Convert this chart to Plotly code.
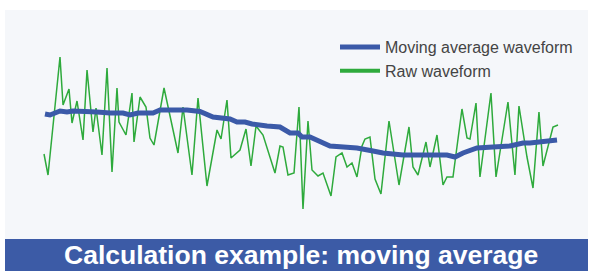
import plotly.graph_objects as go

# Raw waveform (sample position, amplitude)
raw_t = [0.00, 0.78, 3.11, 3.70, 4.86, 5.45, 6.42, 7.59, 8.37, 9.53, 10.12, 11.28,
         12.26, 13.23, 14.20, 14.59, 15.95, 17.12, 17.51, 18.68, 19.84, 20.62, 21.40,
         23.35, 26.07, 27.04, 28.79, 29.96, 31.71, 33.66, 34.44, 35.60, 36.38, 38.13,
         39.30, 40.27, 41.25, 42.61, 44.94, 45.91, 46.50, 47.47, 48.64, 49.61, 50.39,
         51.36, 52.14, 53.31, 54.28, 55.84, 56.81, 57.98, 58.95, 59.92, 60.89, 61.87,
         62.45, 63.42, 64.40, 65.56, 67.12, 69.07, 71.01, 71.79, 72.76, 74.32, 75.10,
         76.46, 77.63, 78.40, 79.57, 81.32, 82.30, 82.88, 84.05, 84.82, 86.96, 87.94,
         90.27, 91.63, 92.41, 93.97, 95.14, 96.30, 97.08, 99.03, 100.00]
raw_v = [-0.70, -1.75, 4.15, 1.75, 2.55, 0.85, 1.95, 0.00, 3.50, 0.40, 1.60, -0.75,
         3.60, -1.60, 2.60, 0.90, 0.25, 2.35, -0.10, 2.15, 1.65, 0.10, -0.25,
         2.60, -0.65, 1.65, -1.75, 2.10, -2.30, 0.50, 0.05, 2.00, -0.90, -0.50,
         0.55, -1.30, 0.70, 0.25, -1.65, -0.30, -0.35, -1.75, -1.65, 1.65, -3.45,
         0.95, -1.50, -1.80, -1.65, -2.80, -0.85, -0.65, -1.35, -1.15, -1.85, -0.30,
         0.05, 0.15, -1.95, -2.70, 0.95, -2.25, 0.65, -1.35, -1.75, -0.10, -1.35,
         0.25, -2.25, -1.85, -1.85, 1.55, 0.10, 0.05, 1.85, -1.85, 2.35, -1.85,
         1.90, -1.75, 1.70, -0.85, -2.40, 1.40, -1.30, 0.65, 0.75]

# Moving average waveform
ma_t = [0.19, 1.17, 3.11, 4.47, 5.64, 8.37, 10.31, 12.84, 15.37, 16.73, 18.29, 21.21,
        22.57, 25.10, 27.82, 30.35, 32.30, 32.88, 36.19, 37.55, 39.11, 40.47, 43.39,
        45.91, 47.86, 49.42, 50.19, 51.75, 55.64, 57.59, 58.95, 60.89, 64.01, 65.95,
        69.84, 77.04, 78.40, 79.96, 81.52, 84.24, 86.19, 87.35, 90.66, 93.19, 94.55,
        97.08, 99.81]
ma_v = [1.30, 1.25, 1.45, 1.40, 1.45, 1.45, 1.40, 1.35, 1.35, 1.25, 1.35, 1.35,
        1.50, 1.50, 1.50, 1.43, 1.20, 1.15, 1.05, 0.90, 0.90, 0.80, 0.70,
        0.65, 0.35, 0.35, 0.15, 0.15, -0.30, -0.35, -0.40, -0.40, -0.55, -0.65,
        -0.75, -0.80, -0.75, -0.85, -0.65, -0.40, -0.40, -0.35, -0.30, -0.15, -0.15,
        -0.10, 0.00]

title_text = "Calculation example: moving average"
names = ["Raw waveform", "Moving average waveform"]

FONT = "Liberation Sans, Arial, Helvetica, sans-serif"
GREEN, BLUE = "#2eaa3c", "#3b5aa8"
W, H = 592, 271
L, R, T, B = 5, 4, 10, 0
PW, PH = W - L - R, H - T - B

fig = go.Figure()
fig.add_trace(go.Scatter(x=raw_t, y=raw_v, mode="lines", name=names[0],
                         legendgroup="raw", showlegend=False,
                         line=dict(color=GREEN, width=1.5)))
fig.add_trace(go.Scatter(x=[None], y=[None], mode="lines", name=names[0],
                         legendgroup="raw", showlegend=True,
                         line=dict(color=GREEN, width=4)))
fig.add_trace(go.Scatter(x=ma_t, y=ma_v, mode="lines", name=names[1],
                         line=dict(color=BLUE, width=5)))

banner_top = 239
fig.add_shape(type="rect", xref="paper", yref="paper", x0=0, x1=1,
              y0=0, y1=(H - B - banner_top) / PH,
              fillcolor="#3c5ba6", line=dict(width=0), layer="above")
fig.add_annotation(text=title_text, xref="paper", yref="paper",
                   x=(301 - L) / PW, y=(H - B - 255) / PH,
                   xanchor="center", yanchor="middle", showarrow=False,
                   font=dict(family=FONT, size=26.5, color="white", weight="bold"))

fig.update_layout(
    width=W, height=H,
    margin=dict(l=L, r=R, t=T, b=B, pad=0, autoexpand=False),
    paper_bgcolor="white",
    plot_bgcolor="#f5f7fa",
    showlegend=True,
    legend=dict(traceorder="reversed", xref="paper", yref="paper",
                x=(335 - L) / PW, y=1 - (30 - T) / PH, xanchor="left", yanchor="top",
                bgcolor="rgba(0,0,0,0)", itemwidth=40, tracegroupgap=0,
                font=dict(family=FONT, size=16, color="#444444")),
    xaxis=dict(range=[-7.59, 105.84], visible=False, fixedrange=True),
    yaxis=dict(range=[-6.55, 6.5], visible=False, fixedrange=True),
)

fig.write_html("out.html", config={"displayModeBar": False},
               post_script="document.body.style.margin='0';")
